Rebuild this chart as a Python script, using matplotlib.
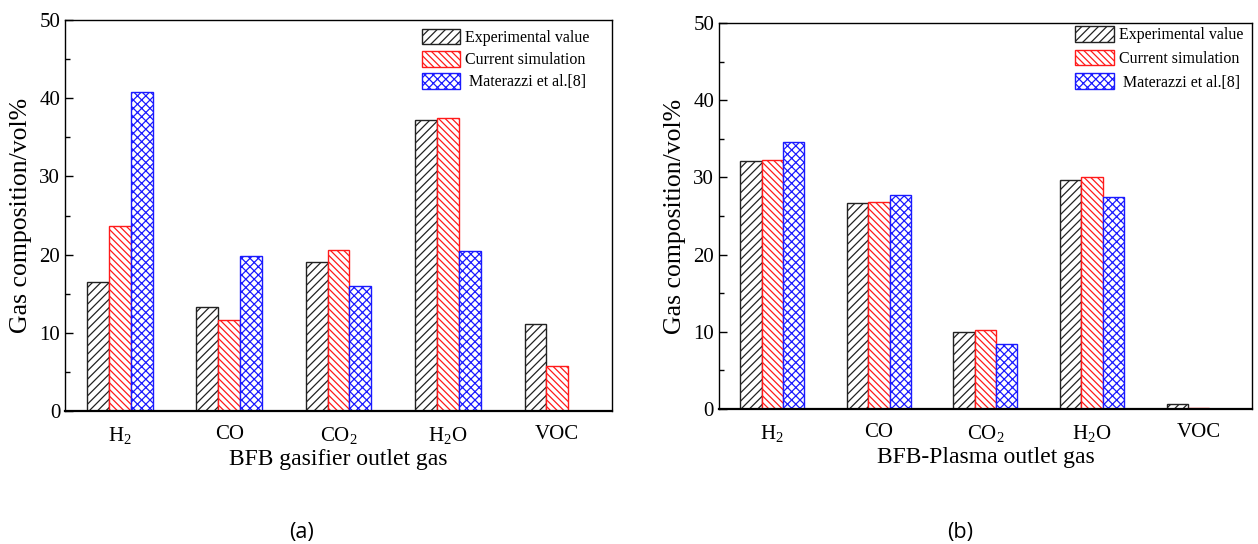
import numpy as np
import matplotlib
matplotlib.use("Agg")
from matplotlib import pyplot as plt
from matplotlib.ticker import MultipleLocator

plt.rcParams.update({
    "font.family": ["Liberation Serif", "DejaVu Serif"],
    "mathtext.fontset": "custom",
    "mathtext.rm": "Liberation Serif",
    "mathtext.it": "Liberation Serif:italic",
    "hatch.linewidth": 0.9,
})

gases = [r"H$_2$", "CO", r"CO$_2$", r"H$_2$O", "VOC"]
series = ["Experimental value", "Current simulation", " Materazzi et al.[8]"]

# BFB gasifier outlet gas
gasifier_exp = [16.5, 13.3, 19.1, 37.2, 11.1]
gasifier_sim = [23.7, 11.6, 20.6, 37.5, 5.8]
gasifier_mat = [40.8, 19.8, 16.0, 20.5, 0.0]

# BFB-Plasma outlet gas
plasma_exp = [32.1, 26.7, 10.0, 29.7, 0.6]
plasma_sim = [32.2, 26.8, 10.3, 30.1, 0.1]
plasma_mat = [34.6, 27.7, 8.4, 27.5, 0.0]

styles = [
    {"edgecolor": "#222222", "hatch": "////"},
    {"edgecolor": "#ff1a1a", "hatch": "\\\\\\\\\\"},
    {"edgecolor": "#1a1aff", "hatch": "xxxx"},
]


def draw_panel(ax, values, xlabel, anchor, spacing):
    x = np.arange(1, len(gases) + 1)
    width = 0.2
    for i, (vals, label, st) in enumerate(zip(values, series, styles)):
        ax.bar(x + (i - 1) * width, vals, width, label=label,
               facecolor="white", linewidth=1.0, **st)

    ax.set_xlim(0.5, len(gases) + 0.5)
    ax.set_ylim(0, 50)
    ax.set_xticks(x)
    ax.set_xticklabels(gases, fontsize=15)
    ax.tick_params(axis="x", length=0, pad=10)
    ax.yaxis.set_major_locator(MultipleLocator(10))
    ax.yaxis.set_minor_locator(MultipleLocator(5))
    ax.tick_params(axis="y", which="major", direction="in", length=6,
                   labelsize=15, width=1)
    ax.tick_params(axis="y", which="minor", direction="in", length=3.5,
                   width=1)
    for side in ["top", "right", "left"]:
        ax.spines[side].set_linewidth(1.0)
    ax.spines["bottom"].set_linewidth(1.6)

    ax.set_ylabel("Gas composition/vol%", fontsize=18.5, labelpad=5)
    ax.set_xlabel(xlabel, fontsize=17, labelpad=2)

    ax.legend(loc="upper right", bbox_to_anchor=anchor, frameon=False,
              fontsize=11.5, handlelength=2.4, handleheight=1.15,
              handletextpad=0.3, labelspacing=spacing, borderpad=0.4)


fig = plt.figure(figsize=(12.58, 5.44), dpi=100)
ax1 = fig.add_axes([0.0517, 0.2445, 0.4348, 0.7187])
ax2 = fig.add_axes([0.5715, 0.2480, 0.4237, 0.7096])

draw_panel(ax1, [gasifier_exp, gasifier_sim, gasifier_mat],
           "BFB gasifier outlet gas", (0.985, 1.015), 0.3)
draw_panel(ax2, [plasma_exp, plasma_sim, plasma_mat],
           "BFB-Plasma outlet gas", (1.01, 1.03), 0.4)

fig.text(0.240, 0.022, "(a)", ha="center", va="center",
         fontsize=15.5, family=["Open Sans", "DejaVu Sans"])
fig.text(0.763, 0.022, "(b)", ha="center", va="center",
         fontsize=15.5, family=["Open Sans", "DejaVu Sans"])

fig.savefig("out.png", dpi=100)
